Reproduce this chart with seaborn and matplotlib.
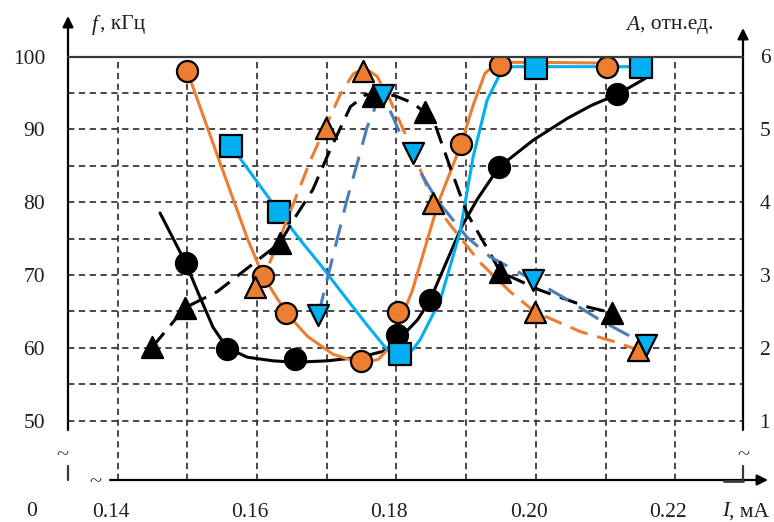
import numpy as np
import pandas as pd
import seaborn as sns
import matplotlib.pyplot as plt
from matplotlib.lines import Line2D
from matplotlib.transforms import ScaledTranslation

# --- f (kHz), solid curves: smooth line vertices + measured points ---
I_blk_line = [0.1461, 0.1498, 0.1518, 0.1537, 0.1557, 0.1586, 0.1623, 0.1655, 0.1701, 0.1748, 0.1781,
              0.1801, 0.1830, 0.1848, 0.1870, 0.1894, 0.1916, 0.1947, 0.1996, 0.2045, 0.2080, 0.2117, 0.2157]
f_blk_line = [78.5, 71.6, 67.0, 62.8, 60.0, 58.7, 58.2, 58.0, 58.2, 58.7, 59.5,
              60.9, 63.8, 66.5, 71.4, 76.7, 80.4, 84.8, 88.5, 91.5, 93.3, 94.8, 97.0]
I_blk_pts = [0.1498, 0.1557, 0.1655, 0.1801, 0.1848, 0.1947, 0.2117]
f_blk_pts = [71.6, 59.8, 58.4, 61.7, 66.5, 84.8, 94.8]

I_org_line = [0.1500, 0.1544, 0.1587, 0.1609, 0.1642, 0.1672, 0.1709, 0.1749, 0.1774, 0.1791,
              0.1803, 0.1823, 0.1860, 0.1893, 0.1910, 0.1927, 0.1945, 0.1992, 0.2102]
f_org_line = [98.0, 86.2, 74.8, 69.8, 64.8, 61.6, 59.1, 57.9, 58.4, 60.1,
              63.1, 67.9, 79.9, 88.0, 93.3, 97.7, 99.2, 99.2, 99.1]
I_org_pts = [0.1500, 0.1609, 0.1642, 0.1749, 0.1802, 0.1893, 0.1949, 0.2102]
f_org_pts = [98.0, 69.8, 64.8, 58.2, 64.9, 88.0, 98.8, 98.6]

I_blu_line = [0.1563, 0.1632, 0.1662, 0.1691, 0.1719, 0.1758, 0.1787, 0.1805, 0.1823, 0.1834,
              0.1863, 0.1891, 0.1910, 0.1930, 0.1949, 0.1967, 0.2035, 0.2151]
f_blu_line = [87.7, 78.6, 74.8, 71.4, 67.9, 63.1, 59.7, 59.0, 59.7, 61.1,
              66.6, 75.8, 86.2, 94.0, 97.7, 98.6, 98.6, 98.6]
I_blu_pts = [0.1563, 0.1632, 0.1805, 0.2000, 0.2151]
f_blu_pts = [87.7, 78.6, 59.1, 98.4, 98.6]

# --- A (rel. units), dashed curves ---
I_blkA_line = [0.1450, 0.1497, 0.1543, 0.1590, 0.1633, 0.1652, 0.1680, 0.1705, 0.1734, 0.1755, 0.1777,
               0.1798, 0.1824, 0.1853, 0.1877, 0.1901, 0.1934, 0.1949, 0.2006, 0.2074, 0.2109]
A_blkA_line = [2.01, 2.55, 2.77, 3.12, 3.44, 3.75, 4.17, 4.72, 5.31, 5.47, 5.50,
               5.46, 5.36, 5.13, 4.48, 3.85, 3.30, 3.04, 2.79, 2.56, 2.48]
I_blkA_pts = [0.1450, 0.1497, 0.1633, 0.1767, 0.1841, 0.1949, 0.2109]
A_blkA_pts = [2.01, 2.55, 3.44, 5.46, 5.24, 3.04, 2.48]

I_orgA_line = [0.1597, 0.1614, 0.1633, 0.1658, 0.1677, 0.1699, 0.1719, 0.1738, 0.1755, 0.1772, 0.1791,
               0.1805, 0.1824, 0.1853, 0.1881, 0.1920, 0.1963, 0.1999, 0.2064, 0.2117, 0.2146]
A_orgA_line = [2.83, 3.07, 3.51, 4.12, 4.58, 5.05, 5.47, 5.76, 5.84, 5.73, 5.40,
               5.10, 4.69, 3.99, 3.64, 3.17, 2.77, 2.49, 2.22, 2.07, 1.97]
I_orgA_pts = [0.1597, 0.1699, 0.1752, 0.1853, 0.1999, 0.2146]
A_orgA_pts = [2.83, 5.02, 5.80, 3.99, 2.49, 1.97]

I_bluA_line = [0.1688, 0.1729, 0.1744, 0.1758, 0.1772, 0.1781, 0.1795, 0.1815, 0.1858,
               0.1901, 0.1934, 0.1996, 0.2045, 0.2092, 0.2158]
A_bluA_line = [2.45, 4.03, 4.54, 5.03, 5.36, 5.46, 5.17, 4.72, 4.03,
               3.52, 3.25, 2.93, 2.66, 2.38, 2.04]
I_bluA_pts = [0.1688, 0.1781, 0.1824, 0.1996, 0.2158]
A_bluA_pts = [2.45, 5.47, 4.67, 2.93, 2.04]

x_major = [0.14, 0.16, 0.18, 0.20, 0.22]
x_labels = ['0.14', '0.16', '0.18', '0.20', '0.22']
x_minor = [0.15, 0.17, 0.19, 0.21]
f_major = [50, 60, 70, 80, 90, 100]
f_minor = [55, 65, 75, 85, 95]
A_ticks = [1, 2, 3, 4, 5, 6]

ORANGE = '#ED7D31'
LBLUE = '#00B0F0'
SBLUE = '#4A7EBB'
AXC = '#3a3a3a'
TXT = '#1e1e1e'

sns.set_style('white')
plt.rcParams['font.family'] = ['Liberation Serif', 'DejaVu Serif']
FS = 15.5

W, H = 774, 522
fig = plt.figure(figsize=(W / 100, H / 100), dpi=100)


def fx(px):
    return px / W


def fy(py):
    return 1 - py / H


ax = fig.add_axes([fx(68), fy(480), fx(743) - fx(68), fy(56.5) - fy(480)])
ax2 = ax.twinx()
ax.set_xlim(0.1329, 0.2297)
ax.set_ylim(41.83, 100)
ax2.set_ylim((41.83 - 40) / 10, 6)

for a in (ax, ax2):
    for s in a.spines.values():
        s.set_visible(False)

ax.set_xticks(x_major)
ax.set_xticklabels(x_labels)
ax.set_xticks(x_minor, minor=True)
ax.set_yticks(f_major)
ax.set_yticklabels([str(v) for v in f_major])
ax.set_yticks(f_minor, minor=True)
ax.grid(True, which='both', color=AXC, lw=1.3, linestyle=(0, (3.5, 2.5)))
ax.tick_params(which='both', length=0)
ax.tick_params(axis='y', pad=16.5, labelsize=FS, labelcolor=TXT)
ax.tick_params(axis='x', pad=16.5, labelsize=FS, labelcolor=TXT)
for lab in ax.get_xticklabels():
    lab.set_transform(lab.get_transform() + ScaledTranslation(-0.07, 0, fig.dpi_scale_trans))

ax2.set_yticks(A_ticks)
ax2.set_yticklabels([str(v) for v in A_ticks])
ax2.tick_params(length=0, pad=12, labelsize=FS, labelcolor=TXT)
ax2.grid(False)

lw = 2.2
ms_c = 230
# solid f-curves
sns.lineplot(x=I_blk_line, y=f_blk_line, ax=ax, color='black', lw=lw, sort=False, estimator=None)
sns.lineplot(x=I_org_line, y=f_org_line, ax=ax, color=ORANGE, lw=lw, sort=False, estimator=None)
sns.lineplot(x=I_blu_line, y=f_blu_line, ax=ax, color=LBLUE, lw=lw, sort=False, estimator=None)
sns.scatterplot(x=I_blk_pts, y=f_blk_pts, ax=ax, color='black', marker='o', s=ms_c,
                edgecolor='black', linewidth=1.6, zorder=3)
sns.scatterplot(x=I_org_pts, y=f_org_pts, ax=ax, color=ORANGE, marker='o', s=ms_c,
                edgecolor='black', linewidth=1.6, zorder=3)
sns.scatterplot(x=I_blu_pts, y=f_blu_pts, ax=ax, color=LBLUE, marker='s', s=270,
                edgecolor='black', linewidth=1.6, zorder=3)

# dashed A-curves
sns.lineplot(x=I_blkA_line, y=A_blkA_line, ax=ax2, color='black', lw=lw, sort=False,
             estimator=None, linestyle=(0, (6, 3.2)))
sns.lineplot(x=I_orgA_line, y=A_orgA_line, ax=ax2, color=ORANGE, lw=lw, sort=False,
             estimator=None, linestyle=(0, (6, 3.2)))
sns.lineplot(x=I_bluA_line, y=A_bluA_line, ax=ax2, color=SBLUE, lw=lw, sort=False,
             estimator=None, linestyle=(0, (7.5, 4)))
sns.scatterplot(x=I_blkA_pts, y=A_blkA_pts, ax=ax2, color='black', marker='^', s=ms_c,
                edgecolor='black', linewidth=1.6, zorder=3)
sns.scatterplot(x=I_orgA_pts, y=A_orgA_pts, ax=ax2, color=ORANGE, marker='^', s=ms_c,
                edgecolor='black', linewidth=1.6, zorder=3)
sns.scatterplot(x=I_bluA_pts, y=A_bluA_pts, ax=ax2, color=LBLUE, marker='v', s=ms_c,
                edgecolor='black', linewidth=1.6, zorder=3)
ax.set_xlabel('')
ax.set_ylabel('')
ax2.set_ylabel('')


# frame: top border, axes with arrows, break marks
def fline(x0, y0, x1, y1, lw=1.6):
    fig.add_artist(Line2D([fx(x0), fx(x1)], [fy(y0), fy(y1)], color=AXC, lw=lw))


def farrow(x0, y0, x1, y1):
    ax.annotate('', xy=(fx(x1), fy(y1)), xytext=(fx(x0), fy(y0)), xycoords='figure fraction',
                textcoords='figure fraction',
                arrowprops=dict(arrowstyle='-|>', color='black', lw=1.6, mutation_scale=16,
                                shrinkA=0, shrinkB=0))


fline(68, 56.5, 743, 56.5)
farrow(68, 430, 68, 16)
farrow(743, 430, 743, 28)
farrow(110, 480, 768, 480)
fline(68, 466, 68, 480)
fline(743, 466, 743, 480)
fline(724, 481, 743, 481, lw=2)
for (px, py) in [(62, 456), (95, 483), (743, 456)]:
    fig.text(fx(px), fy(py), '~', fontsize=16, ha='center', va='center', color=AXC)

fig.text(fx(32), fy(512), '0', fontsize=FS, ha='center', va='center', color=TXT)
fig.text(fx(92), fy(25), 'f', fontsize=FS, style='italic', ha='left', va='center', color=TXT)
fig.text(fx(100), fy(25), ', кГц', fontsize=FS, ha='left', va='center', color=TXT)
fig.text(fx(626), fy(25), 'A', fontsize=FS, style='italic', ha='left', va='center', color=TXT)
fig.text(fx(640), fy(25), ', отн.ед.', fontsize=FS, ha='left', va='center', color=TXT)
fig.text(fx(722), fy(512), 'I', fontsize=FS, style='italic', ha='left', va='center', color=TXT)
fig.text(fx(729), fy(512), ', мА', fontsize=FS, ha='left', va='center', color=TXT)

fig.savefig('out.png', dpi=100)
